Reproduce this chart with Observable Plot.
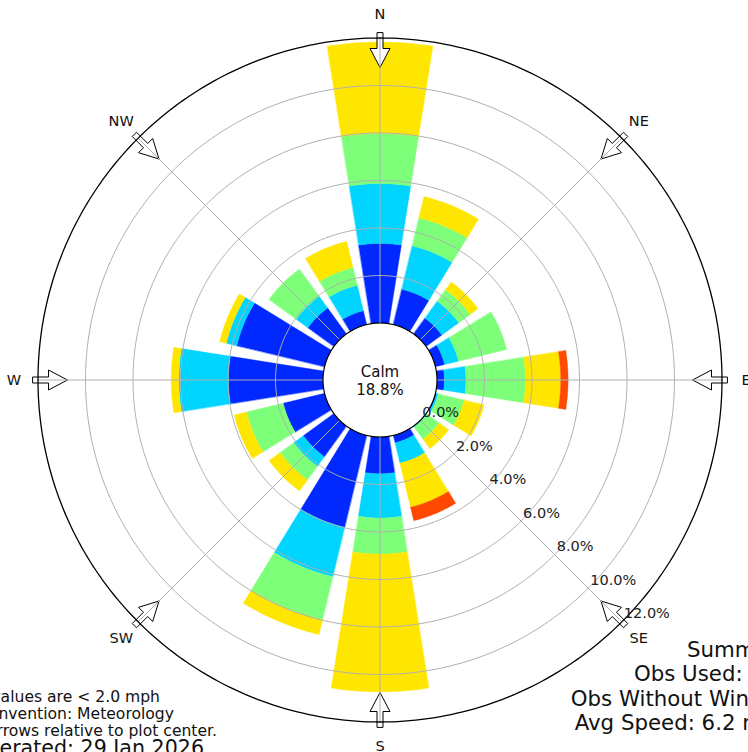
<!DOCTYPE html>
<html><head><meta charset="utf-8">
<script src="https://cdn.jsdelivr.net/npm/d3@7"></script>
<script src="https://cdn.jsdelivr.net/npm/@observablehq/plot@0.6"></script>
<style>html,body{margin:0;padding:0;background:#fff;overflow:hidden}</style>
</head><body><div id="chart"></div>
<script>
// ---- data (percent of observations) ----
const directions = ["N","NNE","NE","ENE","E","ESE","SE","SSE","S","SSW","SW","WSW","W","WNW","NW","NNW"];
const speedBins = ["2 - 5 mph","5 - 7 mph","7 - 10 mph","10 - 15 mph","15 - 20 mph"];
const binColors = ["#0028ff","#00d4ff","#7dff7a","#ffe600","#ff4800"];
const bin2to5   = [3.35,1.53,0.82,0.40,0.31,0.05,0.02,0.32,1.55,3.98,1.59,1.79,3.98,3.80,1.35,0.60];
const bin5to7   = [2.52,1.88,0.88,0.60,0.91,0.07,0.03,0.88,1.86,2.14,0.50,0.00,2.09,0.45,0.61,1.10];
const bin7to10  = [2.11,1.21,0.60,2.08,2.50,1.12,0.63,0.00,1.52,1.87,0.71,1.59,0.00,0.00,1.41,0.77];
const bin10to15 = [3.85,0.92,0.40,0.00,1.49,0.86,0.49,1.91,5.80,0.63,0.57,0.53,0.32,0.29,0.00,1.13];
const bin15to20 = [0,0,0,0,0.31,0,0,0.58,0,0,0,0,0,0,0,0];
const calmPercent = 18.8;
const ringTicks = [0,2,4,6,8,10,12];
const compassLabels = ["N","NE","E","SE","S","SW","W","NW"];
const footLeft = ["Calm values are < 2.0 mph","Bar Convention: Meteorology","Arrows relative to plot center."];
const generatedText = "Generated: 29 Jan 2026";
const summaryLines = ["Summary","Obs Used: 720","Obs Without Wind: 0","Avg Speed: 6.2 mph"];

// ---- geometry ----
const W = 748, H = 752, CX = 379.5, CY = 379.5;
const PX = 23.75;               // pixels per percent
const calmR = 57 / PX;          // calm circle radius in percent units
const rmax = 12;
const rho = p => calmR + p;
const pol = (r, deg) => { const a = deg * Math.PI / 180; return [r * Math.sin(a), r * Math.cos(a)]; };
const FONT = "DejaVu Sans";

const bins = [bin2to5, bin5to7, bin7to10, bin10to15, bin15to20];
const barPts = [];
directions.forEach((dir, i) => {
  let cum = 0;
  const c = i * 22.5, n = 24;
  bins.forEach((vals, b) => {
    const v = vals[i];
    if (!(v > 0)) return;
    const p0 = cum, p1 = cum + v; cum = p1;
    const id = dir + "-" + b;
    for (let k = 0; k <= n; k++) { const t = c - 9 + 18 * k / n; const [x, y] = pol(rho(p1), t); barPts.push({id, bin: b, x, y}); }
    for (let k = n; k >= 0; k--) { const t = c - 9 + 18 * k / n; const [x, y] = pol(rho(p0), t); barPts.push({id, bin: b, x, y}); }
  });
});

function circlePts(r, id) {
  const out = [];
  for (let k = 0; k <= 360; k++) { const [x, y] = pol(r, k); out.push({id, x, y}); }
  return out;
}
const gridRings = ringTicks.filter(p => p > 0 && p < rmax).flatMap(p => circlePts(rho(p), p));
const outerRing = circlePts(rho(rmax), "outer");
const calmCircle = circlePts(calmR, "calm");

const spokeAngles = d3.range(0, 360, 45);

// compass arrows (outline in pixel units: along radius, across)
const arrowShape = [[347,-3],[331.5,-3],[331.5,-10],[312.5,0],[331.5,10],[331.5,3],[347,3]];
const arrowPts = spokeAngles.flatMap((ang, j) => arrowShape.map(([a, s]) => {
  const [ux, uy] = pol(1, ang), [px, py] = pol(1, ang + 90);
  return {id: j, x: (a * ux + s * px) / PX, y: (a * uy + s * py) / PX};
}));

const chart = Plot.plot({
  width: W, height: H, margin: 0,
  style: {fontFamily: FONT, background: "#fff", overflow: "hidden"},
  x: {domain: [-CX / PX, (W - CX) / PX], range: [0, W], axis: null},
  y: {domain: [-(H - CY) / PX, CY / PX], range: [H, 0], axis: null},
  marks: [
    ...bins.map((_, b) => Plot.line(barPts.filter(d => d.bin === b), {
      x: "x", y: "y", z: "id", fill: binColors[b], stroke: binColors[b], strokeWidth: 0.4, curve: "linear-closed"
    })),
    Plot.line(gridRings, {x: "x", y: "y", z: "id", stroke: "#b0b0b0", strokeWidth: 1}),
    Plot.line(arrowPts, {x: "x", y: "y", z: "id", fill: "#fff", stroke: "#000", strokeWidth: 1, curve: "linear-closed"}),
    Plot.link(spokeAngles, {
      x1: () => 0, y1: () => 0,
      x2: a => pol(rho(rmax), a)[0], y2: a => pol(rho(rmax), a)[1],
      stroke: "#b0b0b0", strokeWidth: 1
    }),
    Plot.line(outerRing, {x: "x", y: "y", stroke: "#000", strokeWidth: 1.3}),
    Plot.line(calmCircle, {x: "x", y: "y", fill: "#fff", stroke: "#000", strokeWidth: 1.2, curve: "linear-closed"}),
    Plot.text([`Calm\n${calmPercent.toFixed(1)}%`], {
      x: () => 0, y: () => 0, text: d => d, fontSize: 15, lineHeight: 1.2, fill: "#111"
    }),
    Plot.text(compassLabels, {
      x: (d, i) => pol(366 / PX, i * 45)[0], y: (d, i) => pol(366 / PX, i * 45)[1],
      text: d => d, fontSize: 14.5, fill: "#111"
    }),
    Plot.text(ringTicks, {
      x: p => pol(rho(p), 135)[0], y: p => pol(rho(p), 135)[1],
      text: p => p.toFixed(1) + "%", textAnchor: "start", dx: 2, dy: -8, fontSize: 14.5, fill: "#222"
    })
  ]
});
document.getElementById("chart").appendChild(chart);

// annotation texts placed in the SVG (clipped by its edge like the reference)
const svg = d3.select(chart.tagName.toLowerCase() === "svg" ? chart : chart.querySelector("svg"));
const ann = svg.append("g").attr("font-family", FONT).attr("fill", "#111");
const leftEnds = [160, 174, 217], leftYs = [696.7, 714, 730.7];
footLeft.forEach((t, i) => ann.append("text").attr("x", leftEnds[i]).attr("y", leftYs[i]).attr("dy", "0.32em")
  .attr("text-anchor", "end").attr("font-size", 15.6).text(t));
ann.append("text").attr("x", 204).attr("y", 755).attr("text-anchor", "end").attr("font-size", 20.6).text(generatedText);
const sumYs = [650, 674.5, 699, 723.5];
summaryLines.forEach((t, i) => ann.append("text").attr("x", 790).attr("y", sumYs[i]).attr("dy", "0.32em")
  .attr("text-anchor", "end").attr("font-size", 21.3).text(t));
</script></body></html>
